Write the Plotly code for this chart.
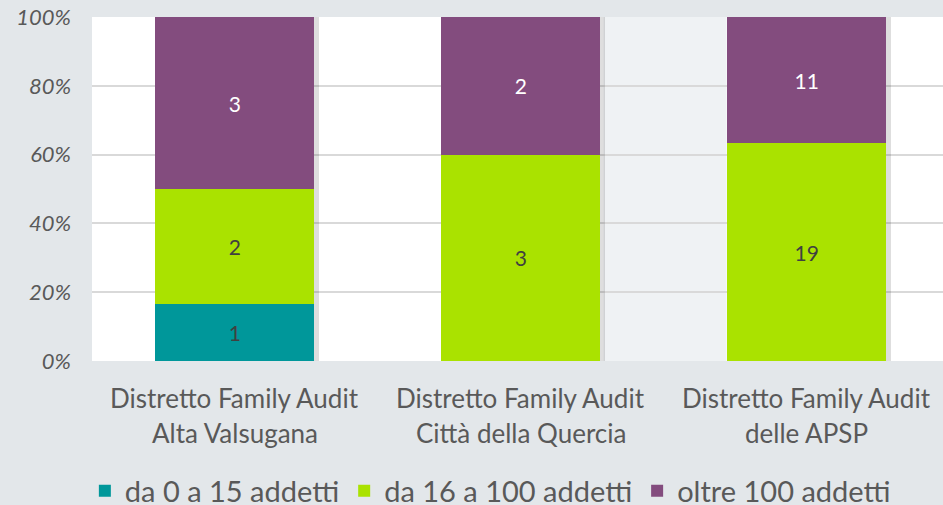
import plotly.graph_objects as go

# categories (two-line labels)
line1 = ["Distretto Family Audit", "Distretto Family Audit", "Distretto Family Audit"]
line2 = ["Alta Valsugana", "Città della Quercia", "delle APSP"]
categories = ["Alta Valsugana", "Città della Quercia", "delle APSP"]

series_names = ["da 0 a 15 addetti", "da 16 a 100 addetti", "oltre 100 addetti"]
small = [1, 0, 0]
medium = [2, 3, 19]
large = [3, 2, 11]

COLORS = ["#00979A", "#AAE200", "#834C7E"]
TEXT_COLORS = ["#404040", "#404040", "#FFFFFF"]
FONT = "Lato, Liberation Sans, sans-serif"
BAR_W = 0.556

fig = go.Figure()

# soft shadow on the right of each column (base axis, drawn below the bars)
totals = [a + b + c for a, b, c in zip(small, medium, large)]
fig.add_trace(go.Bar(
    x=categories, y=totals, xaxis="x", yaxis="y",
    width=BAR_W, offset=-BAR_W / 2 + 0.016,
    marker=dict(color="rgba(0,0,0,0.13)", line=dict(width=0)),
    showlegend=False, hoverinfo="skip",
))

for name, vals, col, tcol in zip(series_names, [small, medium, large], COLORS, TEXT_COLORS):
    fig.add_trace(go.Bar(
        x=categories, y=vals, name=name, xaxis="x2", yaxis="y",
        width=BAR_W,
        marker=dict(color=col, line=dict(width=0)),
        text=[str(v) if v else "" for v in vals],
        textposition="inside", insidetextanchor="middle",
        textfont=dict(color=tcol, size=21, family=FONT),
        hoverinfo="skip",
    ))

# category labels as two centred lines
for cat, a, b in zip(categories, line1, line2):
    fig.add_annotation(x=cat, xref="x", y=0, yref="paper", yanchor="middle",
                       yshift=-37, text=a, showarrow=False,
                       font=dict(size=26, color="#595959", family=FONT))
    fig.add_annotation(x=cat, xref="x", y=0, yref="paper", yanchor="middle",
                       yshift=-72, text=b, showarrow=False,
                       font=dict(size=26, color="#595959", family=FONT))

# faint watermark panel behind the bars
fig.add_shape(type="rect", xref="x", yref="paper", x0=1.29, x1=1.72, y0=0, y1=1,
              fillcolor="#EFF2F4", line_width=0, layer="below")

fig.update_layout(
    barmode="stack", barnorm="percent",
    width=943, height=505,
    margin=dict(l=92, r=0, t=17, b=144),
    paper_bgcolor="#E3E7EA", plot_bgcolor="#FFFFFF",
    font=dict(family=FONT, color="#595959"),
    showlegend=True,
    legend=dict(orientation="h", xref="container", yref="container",
                x=0.52, xanchor="center", y=0.028, yanchor="middle",
                font=dict(size=29, color="#595959", family=FONT),
                itemwidth=30, traceorder="normal", bgcolor="rgba(0,0,0,0)"),
    uniformtext=dict(mode="show", minsize=10),
    xaxis=dict(range=[-0.5, 2.477], showticklabels=False, showgrid=False,
               zeroline=False, showline=False),
    xaxis2=dict(range=[-0.5, 2.477], overlaying="x", showticklabels=False,
                showgrid=False, zeroline=False, showline=False),
    yaxis=dict(range=[0, 100], dtick=20, ticksuffix="%", showgrid=True,
               gridcolor="#D9D9D9", gridwidth=2, zeroline=False,
               ticklabelstandoff=20,
               tickfont=dict(size=22, color="#595959", style="italic", family=FONT)),
)

fig.write_html("out.html", config={"displayModeBar": False},
               post_script="document.body.style.margin='0';")
